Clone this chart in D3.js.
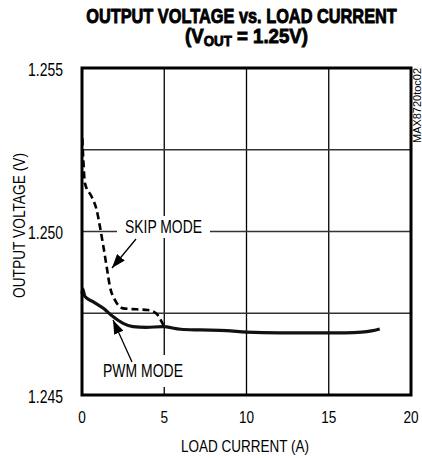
<!DOCTYPE html>
<html>
<head>
<meta charset="utf-8">
<script src="https://cdn.jsdelivr.net/npm/d3@7"></script>
<style>
  body { margin: 0; background: #fff; }
  svg text { font-family: "Liberation Sans", Arial, sans-serif; }
</style>
</head>
<body>
<div id="chart"></div>
<script>
// values
const xTicks = [0, 5, 10, 15, 20];
const yTicks = [1.245, 1.250, 1.255];
const yGrid = [1.2475, 1.250, 1.2525];

const pwmCurrent = [0, 0.04, 0.18, 0.69, 1.3, 1.9, 2.5, 3.1, 3.9, 4.9, 6.0, 7.2, 8.8, 10.0, 12.0, 14.0, 16.0, 17.0, 17.6, 18.1];
const pwmVoltage = [1.24810, 1.24825, 1.24801, 1.24785, 1.24765, 1.24739, 1.24719, 1.24709, 1.24707, 1.24709, 1.24701, 1.24699, 1.24697, 1.24692, 1.24690, 1.24690, 1.24690, 1.24692, 1.24696, 1.24702];

const skipCurrent = [0.02, 0.08, 0.18, 0.59, 0.89, 1.09, 1.3, 1.5, 1.7, 2.0, 2.5, 3.3, 4.0, 4.5, 4.94];
const skipVoltage = [1.25285, 1.25219, 1.25147, 1.25106, 1.25066, 1.25015, 1.24954, 1.24892, 1.24831, 1.24791, 1.24765, 1.24762, 1.24760, 1.24750, 1.24714];

const width = 422, height = 458;
const margin = { top: 68, right: 11, bottom: 63, left: 82 };

const svg = d3.select("#chart").append("svg")
  .attr("width", width)
  .attr("height", height);

const x = d3.scaleLinear().domain([0, 20]).range([margin.left, width - margin.right]);
const y = d3.scaleLinear().domain([1.245, 1.255]).range([height - margin.bottom, margin.top]);

// the reference uses a condensed face, so squeeze text horizontally
const squeeze = function (sel, k) {
  sel.each(function () {
    const t = d3.select(this);
    const ax = +t.attr("x");
    t.attr("transform", `translate(${ax},0) scale(${k},1) translate(${-ax},0)`);
  });
};
const fitWidth = function (sel, w) {
  sel.each(function () {
    const t = d3.select(this);
    const ax = +t.attr("x");
    const k = w / this.getComputedTextLength();
    t.attr("transform", `translate(${ax},0) scale(${k},1) translate(${-ax},0)`);
  });
};

// title
const title = svg.append("g")
  .attr("font-weight", "bold")
  .attr("font-size", 21)
  .attr("text-anchor", "middle")
  .style("stroke", "#000")
  .style("stroke-width", 0.9);
title.append("text").attr("x", 241.5).attr("y", 23).text("OUTPUT VOLTAGE vs. LOAD CURRENT")
  .call(fitWidth, 311);
const t2 = title.append("text").attr("x", 246.5).attr("y", 43);
t2.append("tspan").text("(V");
t2.append("tspan").attr("font-size", 15).attr("dy", 3).text("OUT");
t2.append("tspan").attr("dy", -3).text(" = 1.25V)");
t2.call(fitWidth, 123);

// grid
svg.append("g").selectAll("line")
  .data(xTicks.slice(1, -1))
  .enter().append("line")
  .attr("x1", d => x(d)).attr("x2", d => x(d))
  .attr("y1", y(1.255)).attr("y2", y(1.245))
  .attr("stroke", "#000").attr("stroke-width", 1.3);

svg.append("g").selectAll("line")
  .data(yGrid)
  .enter().append("line")
  .attr("x1", x(0)).attr("x2", x(20))
  .attr("y1", d => y(d)).attr("y2", d => y(d))
  .attr("stroke", "#333").attr("stroke-width", 1.3);

// label boxes hide the grid behind them
svg.append("rect").attr("x", 117).attr("y", 216).attr("width", 93).attr("height", 22).attr("fill", "#fff");
svg.append("rect").attr("x", 100).attr("y", 355).attr("width", 86).attr("height", 32).attr("fill", "#fff");

const line = d3.line()
  .x(d => x(d[0]))
  .y(d => y(d[1]))
  .curve(d3.curveMonotoneX);

svg.append("path")
  .datum(d3.zip(skipCurrent, skipVoltage))
  .attr("d", line)
  .attr("fill", "none")
  .attr("stroke", "#000")
  .attr("stroke-width", 2.6)
  .attr("stroke-dasharray", "7,4");

svg.append("path")
  .datum(d3.zip(pwmCurrent, pwmVoltage))
  .attr("d", line)
  .attr("fill", "none")
  .attr("stroke", "#111")
  .attr("stroke-width", 3.2)
  .attr("stroke-linejoin", "round");

// frame
svg.append("rect")
  .attr("x", x(0)).attr("y", y(1.255))
  .attr("width", x(20) - x(0)).attr("height", y(1.245) - y(1.255))
  .attr("fill", "none").attr("stroke", "#000").attr("stroke-width", 3);

// annotations with arrows
svg.append("defs").append("marker")
  .attr("id", "arrow")
  .attr("viewBox", "0 0 14 10")
  .attr("refX", 14).attr("refY", 5)
  .attr("markerWidth", 14).attr("markerHeight", 10)
  .attr("markerUnits", "userSpaceOnUse")
  .attr("orient", "auto")
  .append("path").attr("d", "M0,0 L14,5 L0,10 Z").attr("fill", "#000");

svg.append("line")
  .attr("x1", 136).attr("y1", 239).attr("x2", 112).attr("y2", 268)
  .attr("stroke", "#000").attr("stroke-width", 1.3)
  .attr("marker-end", "url(#arrow)");
svg.append("line")
  .attr("x1", 132).attr("y1", 362).attr("x2", 113).attr("y2", 320)
  .attr("stroke", "#000").attr("stroke-width", 1.3)
  .attr("marker-end", "url(#arrow)");

svg.append("text").attr("x", 163.5).attr("y", 233).attr("text-anchor", "middle")
  .attr("font-size", 18).text("SKIP MODE").call(fitWidth, 77);
svg.append("text").attr("x", 143).attr("y", 377).attr("text-anchor", "middle")
  .attr("font-size", 18).text("PWM MODE").call(fitWidth, 80);

// tick labels
svg.append("g").selectAll("text")
  .data(xTicks)
  .enter().append("text")
  .attr("x", d => x(d)).attr("y", 423)
  .attr("text-anchor", "middle")
  .attr("font-size", 17)
  .text(d => d)
  .call(squeeze, 0.8);

svg.append("g").selectAll("text")
  .data(yTicks)
  .enter().append("text")
  .attr("x", 63).attr("y", d => y(d) + 8)
  .attr("text-anchor", "end")
  .attr("font-size", 18)
  .text(d3.format(".3f"))
  .call(fitWidth, 35);

// axis titles
svg.append("text").attr("x", 245).attr("y", 452).attr("text-anchor", "middle")
  .attr("font-size", 17).text("LOAD CURRENT (A)").call(fitWidth, 128);
svg.append("text")
  .attr("transform", `translate(25,225.5) rotate(-90)`)
  .attr("text-anchor", "middle")
  .attr("font-size", 16)
  .attr("textLength", 145).attr("lengthAdjust", "spacingAndGlyphs")
  .text("OUTPUT VOLTAGE (V)");

svg.append("text")
  .attr("transform", `translate(421,68) rotate(-90)`)
  .attr("text-anchor", "end")
  .attr("font-size", 10)
  .attr("textLength", 75).attr("lengthAdjust", "spacingAndGlyphs")
  .text("MAX8720toc02");
</script>
</body>
</html>
